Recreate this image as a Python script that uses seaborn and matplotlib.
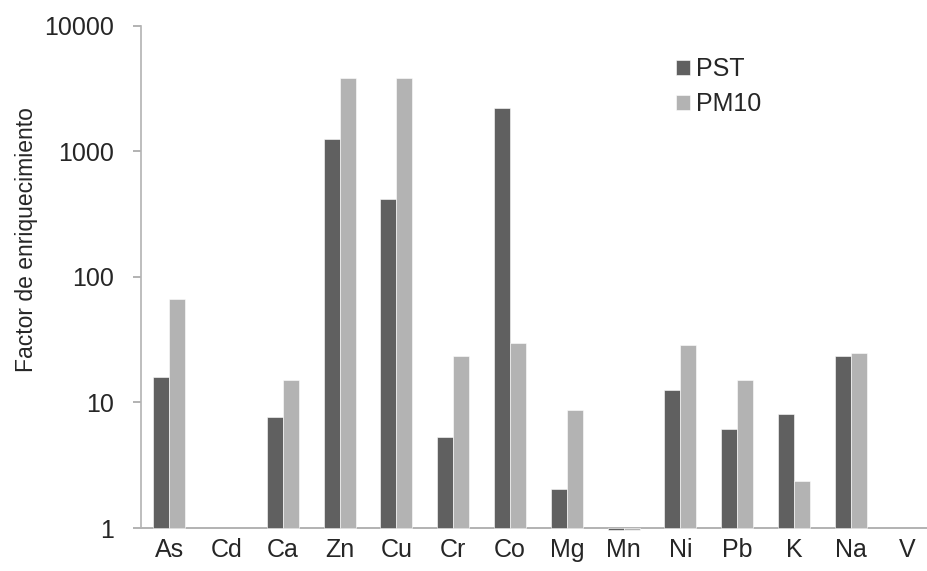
import numpy as np
import pandas as pd
import matplotlib
matplotlib.use("Agg")
import matplotlib.pyplot as plt
import seaborn as sns

# data (log scale), NaN = no bar
elements = ["As", "Cd", "Ca", "Zn", "Cu", "Cr", "Co", "Mg", "Mn", "Ni", "Pb", "K", "Na", "V"]
pst = [16.0, np.nan, 7.6, 1250, 415, 5.3, 2240, 2.04, 0.96, 12.6, 6.2, 8.1, 23.6, np.nan]
pm10 = [67, np.nan, 15.2, 3880, 3880, 23.6, 29.8, 8.75, 0.97, 28.7, 15.1, 2.36, 24.6, np.nan]
series = ["PST", "PM10"]
colors = ["#606060", "#b3b3b3"]

df = pd.DataFrame({
    "Elemento": elements * 2,
    "FE": pst + pm10,
    "Serie": ["PST"] * len(elements) + ["PM10"] * len(elements),
})

sns.set_style("white")
plt.rcParams["font.family"] = ["Liberation Sans", "DejaVu Sans"]

fig = plt.figure(figsize=(9.27, 5.71), dpi=100)
ax = fig.add_axes([141 / 927, 0.0694, 786 / 927, 0.8851])
ax.set_yscale("log")

sns.barplot(data=df, x="Elemento", y="FE", hue="Serie", order=elements,
            hue_order=series, palette=colors, width=0.564, errorbar=None,
            edgecolor="white", linewidth=0.4, ax=ax)

# bars start at 1 (values below 1 hang under the axis, like Mn)
for p in ax.patches:
    top = p.get_y() + p.get_height()
    if np.isfinite(top) and top > 0:
        p.set_y(1)
        p.set_height(top - 1)

ax.set_ylim(0.94, 10000)
ax.set_xlim(-0.5, 13.345)

ticks = [1, 10, 100, 1000, 10000]
ax.set_yticks(ticks)
ax.set_yticklabels([str(t) for t in ticks])
ax.yaxis.set_minor_locator(matplotlib.ticker.NullLocator())
ax.tick_params(axis="y", which="major", left=True, length=5.8, width=1.2,
               color="#a6a6a6", labelsize=18, pad=14)
ax.tick_params(axis="x", length=0, labelsize=18, pad=5)

for s in ["top", "right", "bottom"]:
    ax.spines[s].set_visible(False)
ax.spines["left"].set_color("#b3b3b3")
ax.spines["left"].set_linewidth(1.2)
ax.spines["left"].set_bounds(1, 10000)
ax.axhline(1, color="#a6a6a6", lw=1.2, zorder=0.5)

ax.set_xlabel("")
ax.set_ylabel("")
fig.text(27 / 927, 0.58, "Factor de enriquecimiento", rotation=90,
         ha="center", va="center", fontsize=16.5)

handles, labels = ax.get_legend_handles_labels()
ax.legend(handles, labels, loc="upper left", bbox_to_anchor=(0.729, 0.9),
          bbox_transform=fig.transFigure, frameon=False, fontsize=18,
          handlelength=0.56, handleheight=0.56, handletextpad=0.25,
          labelspacing=0.44, borderpad=0, borderaxespad=0)

fig.savefig("out.png", dpi=100)
